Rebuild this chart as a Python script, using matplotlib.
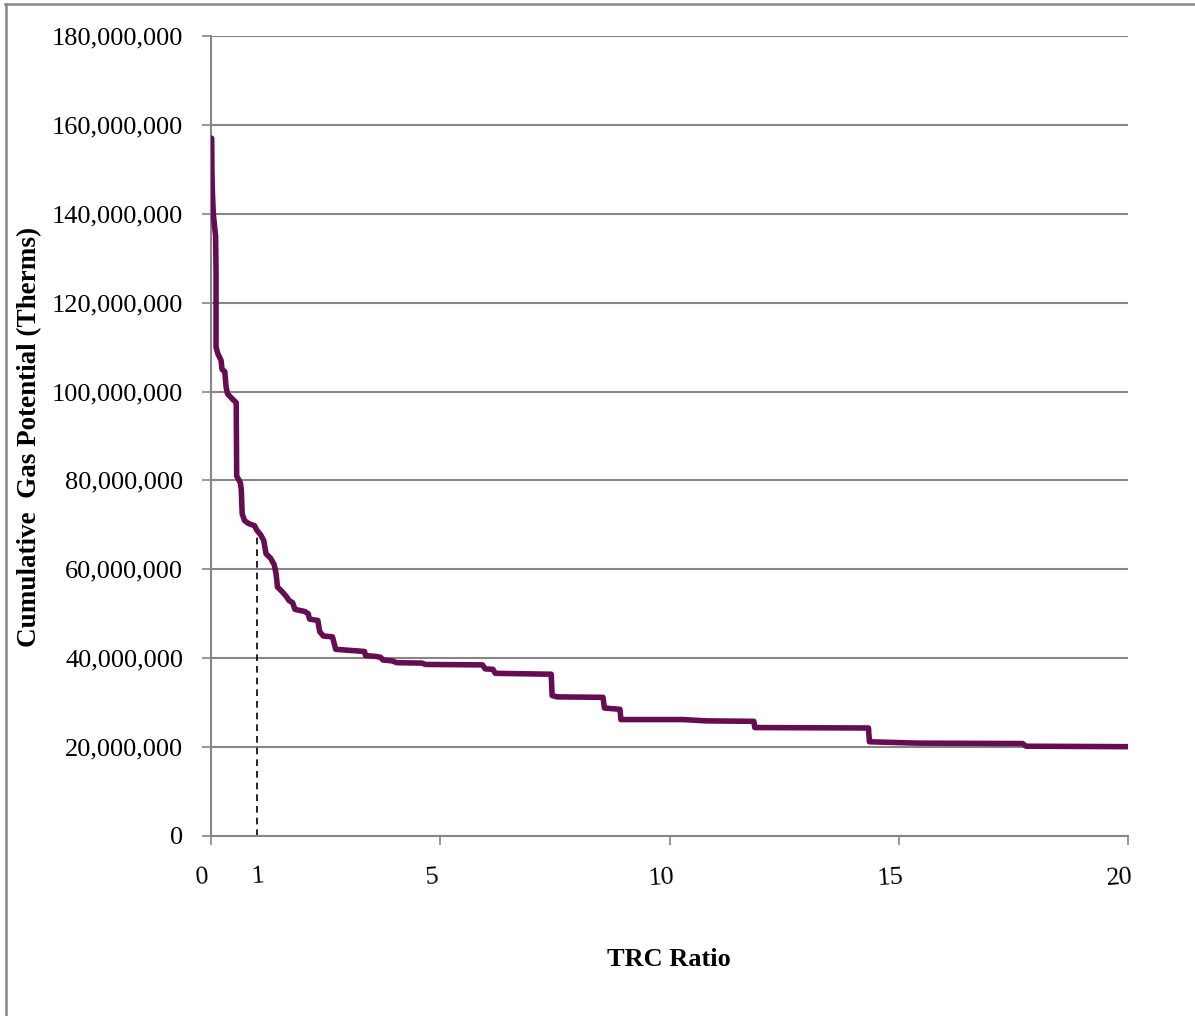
import matplotlib
matplotlib.use("Agg")
import matplotlib.pyplot as plt
from matplotlib.ticker import FuncFormatter
from matplotlib.transforms import ScaledTranslation
from matplotlib.lines import Line2D

# ---------------- data ----------------
trc_ratio = [0.015, 0.02, 0.03, 0.05, 0.10, 0.11, 0.11, 0.15, 0.22, 0.24, 0.30,
             0.33, 0.36, 0.45, 0.55, 0.56, 0.64, 0.66, 0.68, 0.73, 0.82, 0.95,
             1.00, 1.08, 1.15, 1.20, 1.30, 1.38, 1.42, 1.45, 1.55, 1.65, 1.70,
             1.78, 1.83, 2.05, 2.12, 2.15, 2.33, 2.37, 2.45, 2.65, 2.72, 3.25,
             3.35, 3.37, 3.60, 3.70, 3.75, 3.95, 4.05, 4.60, 4.68, 5.92, 5.98,
             6.15, 6.20, 7.42, 7.44, 7.55, 8.55, 8.58, 8.92, 8.94, 10.30, 10.80,
             11.84, 11.86, 14.34, 14.36, 15.40, 17.70, 17.78, 20.00]
cum_gas_millions = [157.0, 150.0, 145.0, 140.0, 135.0, 127.0, 110.0, 108.5, 107.0,
                    105.0, 104.5, 101.0, 99.5, 98.5, 97.5, 81.0, 79.5, 78.0, 72.5,
                    71.0, 70.3, 69.8, 68.8, 67.8, 66.5, 63.5, 62.5, 61.0, 59.0,
                    56.0, 55.0, 53.8, 53.0, 52.5, 51.0, 50.5, 50.0, 48.8, 48.5,
                    46.0, 45.0, 44.8, 42.0, 41.6, 41.5, 40.6, 40.4, 40.2, 39.6,
                    39.4, 39.0, 38.9, 38.6, 38.5, 37.6, 37.5, 36.6, 36.4, 31.6,
                    31.3, 31.2, 28.8, 28.5, 26.2, 26.2, 25.9, 25.8, 24.4, 24.3,
                    21.2, 20.9, 20.8, 20.2, 20.1]
cum_gas = [v * 1e6 for v in cum_gas_millions]

ref_ratio = 1.0            # dashed reference line at TRC = 1
ref_gas = 68.8e6
x_ticks = [0, 5, 10, 15, 20]
y_ticks = list(range(0, 180_000_001, 20_000_000))
x_label = "TRC Ratio"
y_label = "Cumulative  Gas Potential (Therms)"

# ---------------- style ----------------
FONT = ["Liberation Serif", "DejaVu Serif"]
plt.rcParams["font.family"] = FONT
GRID = "#868686"
LINE = "#650C52"

W, H, DPI = 1195, 1016, 100
fig = plt.figure(figsize=(W / DPI, H / DPI), dpi=DPI)
fig.patch.set_facecolor("white")

L, R, T, B = 211, 1128, 36, 836
ax = fig.add_axes([L / W, 1 - B / H, (R - L) / W, (B - T) / H])

ax.plot(trc_ratio, cum_gas, color=LINE, lw=4.0, solid_joinstyle="round",
        solid_capstyle="round", zorder=3)
ax.plot([ref_ratio, ref_ratio], [0, ref_gas], color="black", lw=1.2,
        ls=(0, (4, 3)), zorder=2)

ax.set_xlim(0, 20)
ax.set_ylim(0, 180_000_000)
ax.set_xticks(x_ticks)
ax.set_yticks(y_ticks)
ax.yaxis.set_major_formatter(FuncFormatter(lambda v, p: f"{int(v):,}"))

ax.grid(axis="y", color=GRID, lw=1.5)
ax.set_axisbelow(True)
for s in ["top", "right"]:
    ax.spines[s].set_visible(False)
for s in ["left", "bottom"]:
    ax.spines[s].set_color(GRID)
    ax.spines[s].set_linewidth(1.5)

ax.tick_params(axis="y", length=6.5, width=1.2, color=GRID, labelsize=19,
               pad=13.5)
ax.tick_params(axis="x", length=6.5, width=1.2, color=GRID, labelsize=19,
               pad=15)
off = ScaledTranslation(-0.085, 0, fig.dpi_scale_trans)
for lab in ax.get_xticklabels():
    lab.set_rotation(4)
    lab.set_transform(lab.get_transform() + off)

# label for the reference value, placed like a tick label
ax.text(ref_ratio + 0.03, -(877 - B) / (B - T), "1", transform=ax.get_xaxis_transform(),
        ha="center", va="center", fontsize=19, rotation=4)

ax.set_xlabel(x_label, fontsize=19, fontweight="bold")
ax.set_ylabel(y_label, fontsize=19.5, fontweight="bold")
ax.xaxis.set_label_coords((669 - L) / (R - L), -(960 - B) / (B - T))
ax.yaxis.set_label_coords((30 - L) / (R - L), (B - 437) / (B - T))
ax.xaxis.label.set_va("center")
ax.yaxis.label.set_va("center")

# outer chart-area frame (top and left edges visible in crop)
fig.add_artist(Line2D([5 / W, 1.0], [1 - 4 / H, 1 - 4 / H], color=GRID, lw=1.8,
                      transform=fig.transFigure))
fig.add_artist(Line2D([6 / W, 6 / W], [0, 1 - 4 / H], color=GRID, lw=1.8,
                      transform=fig.transFigure))

fig.savefig("out.png", dpi=DPI, facecolor="white")
